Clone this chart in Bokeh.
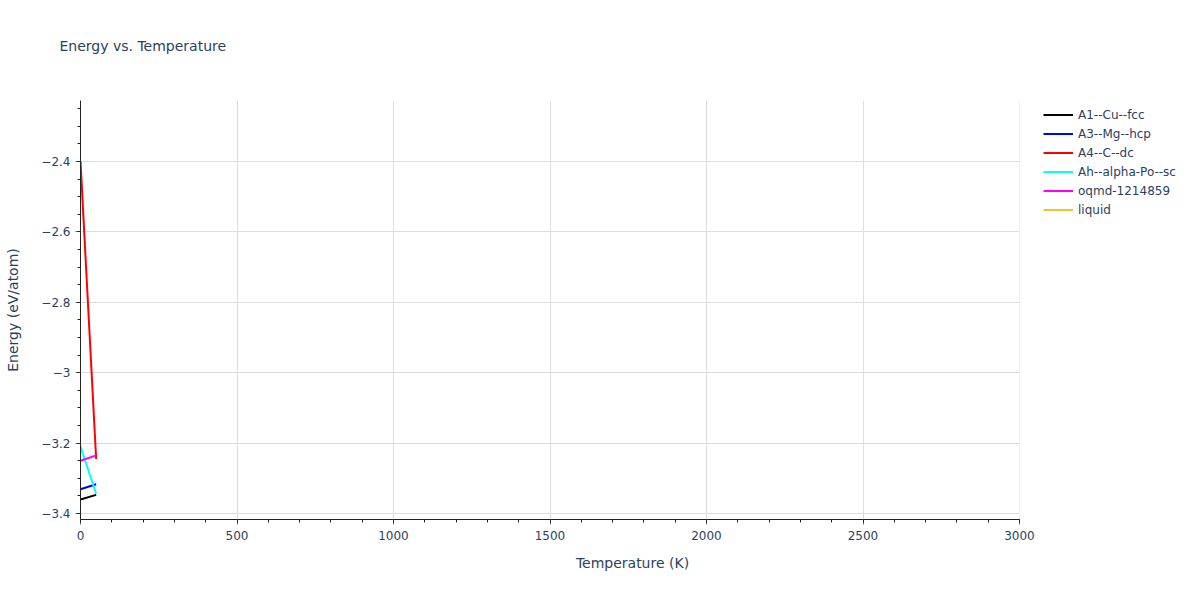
from bokeh.plotting import figure
from bokeh.models import (ColumnDataSource, Legend, LegendItem, SingleIntervalTicker,
                          CustomJSTickFormatter, Range1d, BoxAnnotation)
from bokeh.embed import file_html
from bokeh.resources import INLINE

# ---- data ----
temperature = [0, 50]
series_names = ["A1--Cu--fcc", "A3--Mg--hcp", "A4--C--dc", "Ah--alpha-Po--sc", "oqmd-1214859", "liquid"]
series_colors = ["#000000", "#0000ff", "#ff0000", "#00ffff", "#ff00ff", "#f4c430"]
energy_A1 = [-3.360, -3.347]
energy_A3 = [-3.331, -3.317]
energy_A4 = [-2.400, -3.245]
energy_Ah = [-3.210, -3.344]
energy_oqmd = [-3.250, -3.235]
# liquid has no points in the reference (legend entry only)
temperature_liquid = [float("nan")]
energy_liquid = [float("nan")]

series_x = [temperature, temperature, temperature, temperature, temperature, temperature_liquid]
series_y = [energy_A1, energy_A3, energy_A4, energy_Ah, energy_oqmd, energy_liquid]

x_axis_min, x_axis_max = 0, 3000
y_axis_min, y_axis_max = -3.417, -2.227

FONT = "DejaVu Sans"
TXT = "#2a3f5f"

# plot area of 939 px holds 0..3000 K; the frame is extended to the right
# so that the legend (which sits right of the axes) is not clipped.
PLOT_W = 939
FIG_W, FIG_H = 1184, 584
LEFT, TOP, BOTTOM = 80, 100, 65
frame_w = FIG_W - LEFT
x_view_max = x_axis_max * frame_w / PLOT_W

p = figure(width=FIG_W, height=FIG_H, output_backend="svg", toolbar_location=None,
           x_range=Range1d(x_axis_min, x_view_max), y_range=Range1d(y_axis_min, y_axis_max),
           min_border_left=LEFT, min_border_right=0, min_border_top=TOP, min_border_bottom=BOTTOM)

p.outline_line_color = None
p.background_fill_color = "white"
p.border_fill_color = "white"

p.title.text = "Energy vs. Temperature\n"
p.title.text_font = FONT
p.title.text_font_size = "14px"
p.title.text_font_style = "normal"
p.title.text_color = TXT
p.title.offset = -21
p.title.standoff = 62

# grid
p.xgrid.grid_line_color = "#dddddd"
p.ygrid.grid_line_color = "#dddddd"
p.xgrid.ticker = SingleIntervalTicker(interval=500)
p.ygrid.ticker = SingleIntervalTicker(interval=0.2)
p.xgrid.bounds = (x_axis_min, x_axis_max)
# white area right of the axes (legend area) hides grid lines there
p.add_layout(BoxAnnotation(left=x_axis_max, fill_color="white", fill_alpha=1.0,
                           line_alpha=0, level="underlay"))

items = []
for name, col, xs, ys in zip(series_names, series_colors, series_x, series_y):
    src = ColumnDataSource(dict(x=xs, y=ys))
    r = p.line("x", "y", source=src, line_color=col, line_width=2)
    items.append(LegendItem(label=name, renderers=[r]))

legend = Legend(items=items, location=(963, 302))
legend.label_text_font = FONT
legend.label_text_font_size = "12px"
legend.label_text_color = TXT
legend.border_line_color = None
legend.background_fill_alpha = 0
legend.glyph_width = 30
legend.label_height = 15
legend.glyph_height = 15
legend.spacing = 4
legend.padding = 0
legend.margin = 0
legend.label_standoff = 5
p.add_layout(legend, "center")

# axes
p.xaxis.ticker = SingleIntervalTicker(interval=500, num_minor_ticks=5)
p.yaxis.ticker = SingleIntervalTicker(interval=0.2, num_minor_ticks=4)
p.xaxis.bounds = (x_axis_min, x_axis_max)
p.yaxis.formatter = CustomJSTickFormatter(code="""
    let v = Math.round(tick*10)/10;
    let s = Math.abs(v).toFixed(1).replace(/\\.0$/, '');
    return (v < 0 ? '\\u2212' : '') + s;
""")
p.xaxis.axis_label = "Temperature (K)"
p.yaxis.axis_label = "Energy (eV/atom)"
for ax in (p.xaxis, p.yaxis):
    ax.axis_label_text_font = FONT
    ax.axis_label_text_font_size = "14px"
    ax.axis_label_text_font_style = "normal"
    ax.axis_label_text_color = TXT
    ax.major_label_text_font = FONT
    ax.major_label_text_font_size = "12px"
    ax.major_label_text_color = TXT
    ax.axis_line_color = "#222222"
    ax.axis_line_width = 1
    ax.major_tick_line_color = "#666666"
    ax.minor_tick_line_color = "#222222"
    ax.major_tick_out = 5
    ax.major_tick_in = 0
    ax.minor_tick_out = 3
    ax.minor_tick_in = 0
p.xaxis.axis_label_standoff = 12
p.yaxis.axis_label_standoff = 17
p.xaxis.major_label_standoff = 6
p.yaxis.major_label_standoff = 5

open("out.html", "w").write(file_html(p, INLINE))
